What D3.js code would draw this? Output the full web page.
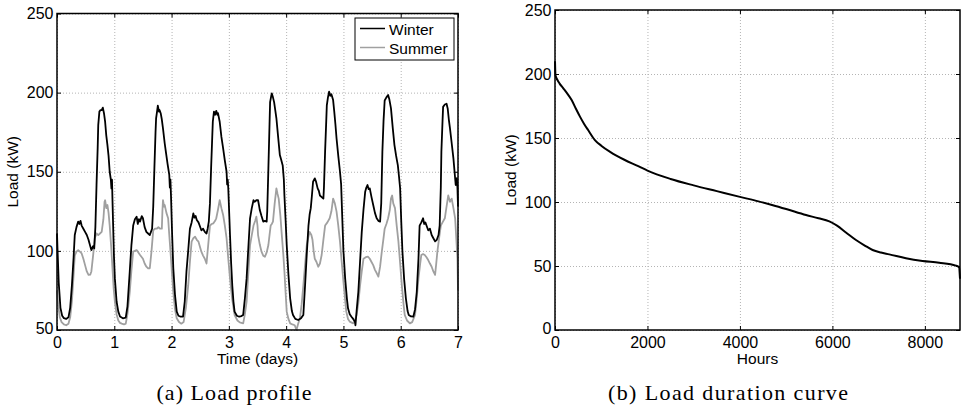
<!DOCTYPE html>
<html lang="en">
<head>
  <meta charset="UTF-8"/>
  <title>Load profile and load duration curve</title>
  <script src="https://d3js.org/d3.v7.min.js"></script>
  <style>
    body { margin: 0; background: white; }
    text { font-family: "Liberation Sans", Arial, sans-serif; }
    .grid line { stroke: #b4b4b4; stroke-dasharray: 1,2; }
    .grid path { display: none; }
    .ax path { display: none; }
    .ax line { stroke: black; }
  </style>
</head>
<body>
<script>
  // (a) load profile over one week, [day, kW]
  var winter = [
    [0,111],[0.01,100],[0.03,80],[0.06,64],[0.09,59],[0.12,57.5],[0.16,57],[0.2,58],[0.23,64],[0.26,78],[0.29,96],
    [0.31,110],[0.34,115],[0.37,118.5],[0.39,117],[0.41,119],[0.43,116],[0.46,114],[0.49,112],[0.52,110],[0.55,107],
    [0.58,103],[0.6,100.5],[0.63,103],[0.65,101.6],[0.67,115],[0.69,141.6],[0.71,165],[0.72,179.5],[0.74,188],[0.76,189],
    [0.78,189],[0.8,190.5],[0.82,187],[0.84,181.6],[0.86,173],[0.88,167],[0.9,160],[0.92,150],[0.94,145],[0.95,139.5],
    [0.96,145],[0.97,130],[0.98,116],[0.995,96],[1.01,82.6],[1.04,68],[1.07,61.6],[1.1,58.5],[1.15,57.4],[1.2,57.8],
    [1.23,65],[1.27,87],[1.3,104],[1.33,116],[1.36,120],[1.39,121.6],[1.41,117],[1.43,120],[1.45,118.5],[1.48,122],
    [1.5,120.6],[1.53,115],[1.56,112],[1.59,111],[1.62,110],[1.64,112],[1.66,114],[1.68,128],[1.7,152],[1.72,175],
    [1.73,183.8],[1.75,189],[1.76,191.8],[1.78,188],[1.79,189],[1.81,187],[1.83,183],[1.85,177.4],[1.88,168],[1.9,162.7],
    [1.93,155],[1.96,148],[1.97,140],[1.98,145],[1.99,135],[2.01,110],[2.03,89],[2.06,72],[2.09,61.6],[2.12,59],
    [2.16,58.4],[2.2,58.4],[2.23,68],[2.26,87],[2.29,100],[2.32,114],[2.35,118],[2.38,123.7],[2.4,121],[2.42,122],
    [2.44,119.5],[2.47,118],[2.49,116],[2.52,113],[2.55,114],[2.58,112],[2.61,111],[2.63,114],[2.65,118.5],[2.67,130],
    [2.69,152],[2.71,172],[2.72,181.6],[2.74,188],[2.76,186],[2.78,188.5],[2.8,186],[2.81,187],[2.84,181.6],[2.87,172],
    [2.9,164.8],[2.93,157],[2.96,150],[2.97,142],[2.98,145],[2.99,139.5],[3.01,120],[3.02,110],[3.04,92],[3.06,78],
    [3.08,68],[3.1,61.6],[3.14,59],[3.18,58.4],[3.22,58.8],[3.25,59.5],[3.28,70],[3.31,82.6],[3.34,102],[3.37,120.6],
    [3.4,127],[3.43,132],[3.45,131],[3.48,132],[3.51,132],[3.53,128],[3.54,125.8],[3.57,122],[3.6,118.5],[3.63,119],
    [3.66,118.5],[3.67,125],[3.69,152],[3.71,180],[3.72,194],[3.74,198],[3.75,199.5],[3.77,197],[3.79,194],[3.81,189],
    [3.83,183.8],[3.86,172],[3.89,160.6],[3.91,158],[3.94,154],[3.96,145],[3.97,135],[3.99,120],[4.01,103.7],[4.04,85],
    [4.07,70],[4.1,62],[4.12,59.5],[4.16,57],[4.21,56.3],[4.26,57.5],[4.3,59.5],[4.33,78],[4.36,98],[4.39,116],
    [4.41,123],[4.43,127],[4.45,135],[4.47,143.7],[4.5,145.8],[4.52,144],[4.55,139.5],[4.57,138],[4.59,135],[4.62,134],
    [4.65,133],[4.66,140],[4.68,162.7],[4.7,182],[4.71,192],[4.73,197],[4.75,200.6],[4.77,198],[4.79,199],[4.82,195.3],
    [4.84,188],[4.86,180],[4.88,171],[4.91,160],[4.94,150],[4.96,142],[4.98,120.6],[5.0,100],[5.03,82.6],[5.06,70],
    [5.08,63.7],[5.11,60],[5.14,58.4],[5.17,57],[5.2,55.3],[5.21,53],[5.23,62],[5.26,74],[5.29,93],[5.32,112],
    [5.35,126],[5.38,137.4],[5.4,140],[5.42,141.6],[5.44,139],[5.46,139.5],[5.49,134],[5.52,129],[5.55,124],[5.58,120.6],
    [5.61,119],[5.64,118.5],[5.66,130],[5.68,162.7],[5.7,182],[5.72,195],[5.75,197],[5.78,198.5],[5.8,196],[5.83,190],
    [5.86,178],[5.89,167],[5.92,160],[5.95,154],[5.97,147],[5.99,139.5],[6.01,118],[6.03,99.5],[6.06,82],[6.09,70],
    [6.12,62],[6.14,59.5],[6.18,58.6],[6.22,58.4],[6.25,63],[6.28,74],[6.31,95],[6.33,116],[6.36,118],[6.39,120.6],
    [6.41,117],[6.43,118],[6.45,116],[6.48,113],[6.51,114],[6.54,110],[6.57,108],[6.6,106],[6.63,107],[6.66,110],
    [6.68,116],[6.7,140],[6.71,162.7],[6.73,182],[6.74,191],[6.77,192.5],[6.8,193],[6.82,190],[6.84,183],[6.86,177.4],
    [6.89,168],[6.92,158.5],[6.94,150],[6.96,141.6],[6.98,146],[6.99,140],[7.0,128]
  ];

  var summer = [
    [0,75],[0.02,66],[0.05,58],[0.08,55],[0.12,53.5],[0.16,53],[0.2,54],[0.23,58],[0.26,68],[0.29,85],[0.31,97],
    [0.34,99.5],[0.37,100.5],[0.4,99.5],[0.43,98.4],[0.46,95],[0.49,91],[0.52,87],[0.55,84.8],[0.58,85],[0.6,87],
    [0.63,97],[0.66,108],[0.69,111],[0.72,110],[0.75,111],[0.78,112],[0.81,120],[0.83,131],[0.84,132],[0.86,127],
    [0.88,129],[0.9,124],[0.92,116],[0.945,103],[0.965,91],[0.99,76],[1.01,68],[1.04,60],[1.07,56],[1.1,54.5],
    [1.13,54],[1.17,53.5],[1.2,54],[1.23,60],[1.27,74],[1.3,88],[1.33,99.5],[1.36,100],[1.39,100.5],[1.42,99],
    [1.45,97.4],[1.48,96],[1.5,95],[1.53,92],[1.56,90],[1.59,89],[1.62,89],[1.65,100],[1.68,113],[1.71,114],
    [1.74,114],[1.77,115],[1.8,114],[1.83,114],[1.84,125],[1.85,132],[1.87,128],[1.88,129],[1.91,124],[1.94,120.6],
    [1.96,110],[1.99,95],[2.01,84],[2.03,74],[2.06,63],[2.09,57.4],[2.13,55],[2.17,54],[2.21,55],[2.25,64],
    [2.29,78],[2.32,93],[2.35,105.8],[2.38,108],[2.41,109],[2.44,107],[2.47,105.8],[2.5,102],[2.52,99.5],[2.55,97],
    [2.58,95],[2.61,92],[2.64,104],[2.67,116],[2.7,117],[2.73,117.4],[2.76,119],[2.78,120.6],[2.81,126],[2.84,132],
    [2.87,127],[2.9,122.7],[2.93,116],[2.96,108],[2.99,95],[3.02,82.6],[3.06,69],[3.1,59.5],[3.15,56],[3.19,54.8],
    [3.22,54.5],[3.25,54.2],[3.28,60],[3.31,68],[3.34,86],[3.37,103.7],[3.4,110],[3.43,116],[3.46,119],[3.48,121.6],
    [3.5,116],[3.51,110],[3.54,104],[3.57,99.5],[3.6,97],[3.63,96.3],[3.66,99],[3.69,103.7],[3.71,110],[3.73,116],
    [3.75,117],[3.77,118.5],[3.8,130],[3.83,139.5],[3.85,136],[3.87,133],[3.9,122],[3.92,112],[3.95,98],[3.97,87],
    [3.99,74],[4.01,61.6],[4.04,57],[4.07,54.2],[4.11,53.5],[4.15,53],[4.18,50],[4.21,54],[4.24,57.4],[4.27,66],
    [4.3,78],[4.33,91],[4.36,103.7],[4.39,109],[4.41,112],[4.44,110],[4.46,107],[4.48,100],[4.5,95],[4.53,93],
    [4.56,90],[4.59,92],[4.62,97.4],[4.65,107],[4.68,116],[4.72,118],[4.76,120.6],[4.79,125],[4.82,133],[4.85,130],
    [4.88,124.8],[4.91,116],[4.94,105.8],[4.97,93],[5.0,80.5],[5.03,69],[5.05,61.6],[5.08,57],[5.11,55.3],[5.17,54.2],
    [5.2,56],[5.23,59.5],[5.26,67],[5.29,78],[5.32,87],[5.35,95],[5.39,96],[5.43,96.3],[5.46,95],[5.49,93],
    [5.52,91],[5.55,88],[5.58,86],[5.61,83.7],[5.64,90],[5.67,99.5],[5.7,108],[5.72,114],[5.75,117],[5.78,120.6],
    [5.81,126],[5.83,133],[5.85,135],[5.87,130],[5.9,127],[5.93,116],[5.96,105.8],[5.99,92],[6.02,78],[6.05,66],
    [6.07,59.5],[6.11,56],[6.16,54.2],[6.2,55],[6.25,59.5],[6.28,70],[6.31,82.6],[6.34,92],[6.36,97.4],[6.39,98],
    [6.42,97.4],[6.45,96],[6.48,94.2],[6.51,92],[6.54,90],[6.57,87],[6.6,84.8],[6.62,92],[6.64,99.5],[6.67,108],
    [6.7,116],[6.73,118],[6.77,120.6],[6.8,128],[6.83,135],[6.86,131],[6.89,133],[6.92,127],[6.95,120.6],[6.97,108],
    [6.99,95],[7.0,75]
  ];

  // (b) load duration curve
  var hours = [0,10,50,100,180,270,360,450,540,630,720,863,1000,1200,1500,1800,2000,2500,3000,3500,4000,4400,
               4712,5000,5430,5700,5934,6100,6300,6510,6700,6870,7050,7230,7590,7950,8310,8670,8740,8760];
  var load  = [210,199,195.5,192.5,188.8,184.5,179.7,173,166.7,161,156,148.4,144,139,133,128,124.5,118,113,108.5,
               104,100.5,97.5,94.5,89.8,87.3,84.8,81.5,76,70.3,66,62.5,60.5,59.1,56,53.9,52.6,50.3,49,40];

  var dayTicks = [0,1,2,3,4,5,6,7];
  var loadTicksA = [50,100,150,200,250];
  var hourTicks = [0,2000,4000,6000,8000];
  var loadTicksB = [0,50,100,150,200,250];
  var seriesNames = ["Winter","Summer"];
  var seriesColors = ["black","#a0a0a0"];

  var svg = d3.select("body").append("svg")
          .attr("width", 962)
          .attr("height", 409);

  function panel(x, y, xt, yt, xlabel) {
    var x0 = x.range()[0], x1 = x.range()[1];
    var y0 = y.range()[0], y1 = y.range()[1];
    var g = svg.append("g");

    // dotted grid
    g.append("g").attr("class", "grid")
            .attr("transform", "translate(0," + y0 + ")")
            .call(d3.axisBottom(x).tickValues(xt).tickSize(-(y0 - y1)).tickFormat(""));
    g.append("g").attr("class", "grid")
            .attr("transform", "translate(" + x0 + ",0)")
            .call(d3.axisLeft(y).tickValues(yt).tickSize(-(x1 - x0)).tickFormat(""));

    // inward ticks on all four sides
    var bottom = g.append("g").attr("class", "ax")
            .attr("transform", "translate(0," + y0 + ")")
            .call(d3.axisBottom(x).tickValues(xt).tickFormat(d3.format("d"))
                    .tickSizeInner(-4).tickSizeOuter(0).tickPadding(6.5));
    bottom.selectAll("text").style("font-size", "16px").attr("fill", "black");
    var left = g.append("g").attr("class", "ax")
            .attr("transform", "translate(" + x0 + ",0)")
            .call(d3.axisLeft(y).tickValues(yt).tickFormat(d3.format("d"))
                    .tickSizeInner(-4).tickSizeOuter(0).tickPadding(3.5));
    left.selectAll("text").style("font-size", "16px").attr("fill", "black");
    // lowest y label sits a little higher so it clears the first x label
    left.selectAll("text").filter(function(d) { return d === yt[0]; }).attr("dy", "0.22em");
    g.append("g").attr("class", "ax")
            .attr("transform", "translate(0," + y1 + ")")
            .call(d3.axisTop(x).tickValues(xt).tickSizeInner(-4).tickSizeOuter(0).tickFormat(""));
    g.append("g").attr("class", "ax")
            .attr("transform", "translate(" + x1 + ",0)")
            .call(d3.axisRight(y).tickValues(yt).tickSizeInner(-4).tickSizeOuter(0).tickFormat(""));

    g.append("text")
            .attr("text-anchor", "middle")
            .attr("x", (x0 + x1) / 2)
            .attr("y", 364)
            .style("font-size", "15.5px")
            .text(xlabel);

    g.append("text")
            .attr("text-anchor", "middle")
            .attr("transform", "rotate(-90)")
            .attr("x", -(y0 + y1) / 2)
            .attr("y", x0 - 39)
            .style("font-size", "15.5px")
            .text("Load (kW)");

    return g;
  }

  function frame(g, x, y) {
    g.append("rect")
            .attr("x", x.range()[0])
            .attr("y", y.range()[1])
            .attr("width", x.range()[1] - x.range()[0])
            .attr("height", y.range()[0] - y.range()[1])
            .attr("fill", "none")
            .attr("stroke", "black")
            .attr("stroke-width", 1.5);
  }

  // ---- (a) ----
  var xA = d3.scaleLinear().domain([0, 7]).range([57, 458]);
  var yA = d3.scaleLinear().domain([50, 250]).range([330, 13.5]);
  var gA = panel(xA, yA, dayTicks, loadTicksA, "Time (days)");

  var lineA = d3.line()
          .x(function(d) { return xA(d[0]); })
          .y(function(d) { return yA(d[1]); });

  gA.append("path").datum(summer)
          .attr("d", lineA).attr("fill", "none")
          .attr("stroke", seriesColors[1]).attr("stroke-width", 1.8)
          .attr("stroke-linejoin", "round");
  gA.append("path").datum(winter)
          .attr("d", lineA).attr("fill", "none")
          .attr("stroke", seriesColors[0]).attr("stroke-width", 1.8)
          .attr("stroke-linejoin", "round");
  frame(gA, xA, yA);

  // legend
  var leg = gA.append("g").attr("transform", "translate(355,18)");
  leg.append("rect").attr("width", 99).attr("height", 42)
          .attr("fill", "white").attr("stroke", "black").attr("stroke-width", 1);
  leg.selectAll(".item")
          .data(seriesNames)
          .enter()
          .append("g")
          .each(function(d, i) {
            var it = d3.select(this);
            it.append("line")
                    .attr("x1", 5).attr("x2", 30)
                    .attr("y1", 10.5 + i * 19).attr("y2", 10.5 + i * 19)
                    .attr("stroke", seriesColors[i]).attr("stroke-width", 1.5);
            it.append("text")
                    .attr("x", 34).attr("y", 16.5 + i * 19)
                    .style("font-size", "15.5px")
                    .text(d);
          });

  // ---- (b) ----
  var xB = d3.scaleLinear().domain([0, 8760]).range([555, 960]);
  var yB = d3.scaleLinear().domain([0, 250]).range([330, 10]);
  var gB = panel(xB, yB, hourTicks, loadTicksB, "Hours");

  var curve = hours.map(function(h, i) { return [h, load[i]]; });
  gB.append("path").datum(curve)
          .attr("d", d3.line()
                  .x(function(d) { return xB(d[0]); })
                  .y(function(d) { return yB(d[1]); })
                  .curve(d3.curveMonotoneX))
          .attr("fill", "none")
          .attr("stroke", "black")
          .attr("stroke-width", 2);
  frame(gB, xB, yB);

  // captions
  svg.append("text")
          .attr("x", 234).attr("y", 400)
          .attr("text-anchor", "middle")
          .attr("textLength", 155)
          .attr("lengthAdjust", "spacing")
          .style("font-family", "'Liberation Serif', serif")
          .style("font-size", "22px")
          .text("(a) Load profile");
  svg.append("text")
          .attr("x", 728).attr("y", 400)
          .attr("text-anchor", "middle")
          .attr("textLength", 240)
          .attr("lengthAdjust", "spacing")
          .style("font-family", "'Liberation Serif', serif")
          .style("font-size", "22px")
          .text("(b) Load duration curve");
</script>
</body>
</html>
